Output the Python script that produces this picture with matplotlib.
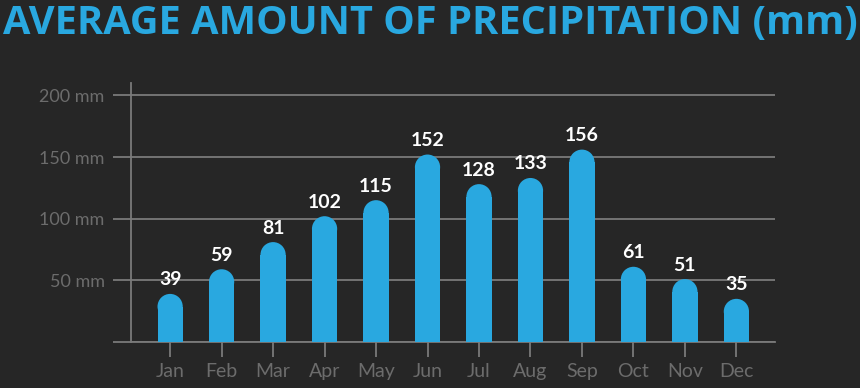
import matplotlib
matplotlib.use('Agg')
import matplotlib.pyplot as plt
from matplotlib.patches import Ellipse

# data
months = ['Jan', 'Feb', 'Mar', 'Apr', 'May', 'Jun', 'Jul', 'Aug', 'Sep', 'Oct', 'Nov', 'Dec']
precip = [39, 59, 81, 102, 115, 152, 128, 133, 156, 61, 51, 35]
yticks = [50, 100, 150, 200]
ylabels = ['50 mm', '100 mm', '150 mm', '200 mm']

bg = '#262626'
blue = '#29a8e0'
grid = '#7a7a7a'
lab = '#6c6c6c'

plt.rcParams['font.family'] = ['Lato', 'DejaVu Sans']

fig = plt.figure(figsize=(8.6, 3.88), dpi=100, facecolor=bg)
ax = fig.add_axes([131/860, 1-342/388, (775-131)/860, (342-83)/388])
ax.set_facecolor(bg)

ax.set_xlim(-0.76, 11.75)
ax.set_ylim(0, 210)

# pixels per data unit, for round caps
px_x = (775-131) / (11.75+0.76)
px_y = (342-83) / 210.0
w = 0.49
ry = (w/2) * px_x / px_y   # cap radius in y units

ax.bar(range(len(precip)), [v - ry for v in precip], width=w, color=blue, zorder=3)
for i, v in enumerate(precip):
    ax.add_patch(Ellipse((i, v - ry), w, 2*ry, fc=blue, ec='none', zorder=3))
    ax.annotate(str(v), (i, v), xytext=(0, 4), textcoords='offset points',
                ha='center', va='bottom', color='white', fontsize=14,
                fontweight='bold', zorder=4)

ax.set_yticks([0] + yticks)
ax.set_yticklabels([''] + ylabels)
ax.set_xticks(range(len(months)))
ax.set_xticklabels(months)
ax.grid(axis='y', color=grid, lw=1.3, zorder=1)
ax.tick_params(axis='y', length=13, width=1.3, color=grid, labelcolor=lab,
               labelsize=13, pad=6)
ax.tick_params(axis='x', length=11, width=1.3, color=grid, labelcolor=lab,
               labelsize=14, pad=4)
for s in ['top', 'right']:
    ax.spines[s].set_visible(False)
for s in ['left', 'bottom']:
    ax.spines[s].set_color(grid)
    ax.spines[s].set_linewidth(1.3)

fig.text(0.5, 0.99, 'AVERAGE AMOUNT OF PRECIPITATION (mm)', ha='center', va='top',
         color=blue, fontsize=28.6, fontweight='bold', family=['Open Sans', 'DejaVu Sans'])

fig.savefig('out.png', dpi=100, facecolor=bg)
